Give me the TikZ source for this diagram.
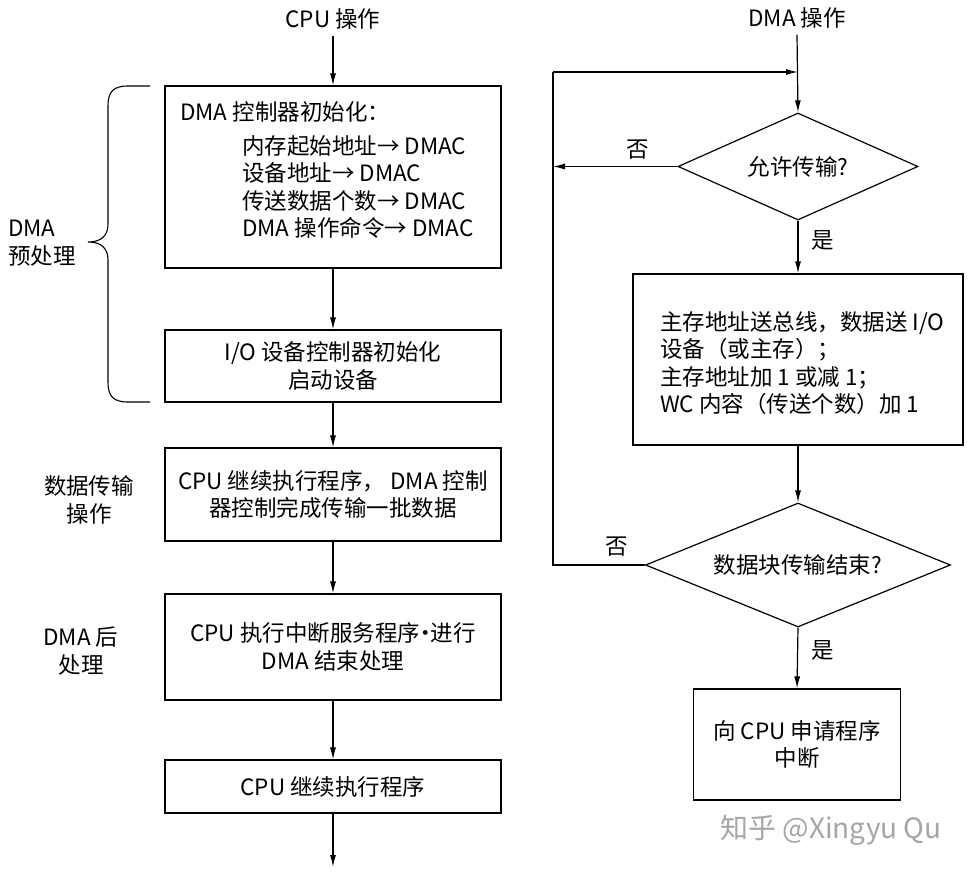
\documentclass[tikz,border=0pt]{standalone}
\usepackage{fontspec}
\setmainfont{Noto Sans CJK SC}
\usetikzlibrary{arrows.meta,shapes.geometric}
\begin{document}
\begin{tikzpicture}[x=1pt,y=-1pt,
  every node/.style={font=\fontsize{22.5}{27.5}\selectfont, inner sep=2pt},
  box/.style={draw, line width=1.2pt, minimum width=336pt},
  dia/.style={draw, diamond, aspect=2.2, inner sep=0pt, line width=1.2pt},
  arr/.style={line width=1.2pt, -{Latex[length=12pt,width=6pt]}},
  ln/.style={line width=1.2pt},
  txt/.style={align=center, inner sep=0pt},
]
\useasboundingbox (0,0) rectangle (970,875);
\fill[white] (0,0) rectangle (970,875);

% ---------- left column ----------
\node[txt] (cpu) at (333,19) {CPU 操作};
\node[box, minimum height=182pt] (b1) at (333,177) {};
\node[txt, anchor=west] (b1a) at (180,112) {DMA 控制器初始化：};
\node[txt, anchor=west, align=left] (b1b) at (242,187) {内存起始地址→ DMAC\\设备地址→ DMAC\\传送数据个数→ DMAC\\DMA 操作命令→ DMAC};
\node[box, minimum height=72pt, align=center] (b2) at (333,366) {I/O 设备控制器初始化\\启动设备};
\node[box, minimum height=93pt, align=center] (b3) at (333,494.5) {CPU 继续执行程序， DMA 控制\\器控制完成传输一批数据};
\node[box, minimum height=106pt, align=center] (b4) at (333,647) {CPU 执行中断服务程序\kern-6pt·\kern-6pt进行\\DMA 结束处理};
\node[box, minimum height=53pt] (b5) at (333,786.5) {CPU 继续执行程序};
\coordinate (bend) at (333,867);

\draw[arr] (cpu.south) ++(0,6) -- (b1.north);
\draw[arr] (b1) -- (b2);
\draw[arr] (b2) -- (b3);
\draw[arr] (b3) -- (b4);
\draw[arr] (b4) -- (b5);
\draw[arr] (b5) -- (bend);

% side labels
\node[txt, anchor=west, align=left] (l1) at (8,243) {DMA\\预处理};
\node[txt] (l2) at (89,500) {数据传输\\操作};
\node[txt] (l3) at (81,651) {DMA 后\\处理};

% brace
\draw[line width=1.1pt] (150,86) -- (128,86) .. controls (113,86) and (108,92) .. (108,106)
  -- (108,224) .. controls (108,236) and (101,242) .. (88,242)
  .. controls (101,242) and (108,248) .. (108,260)
  -- (108,382) .. controls (108,396) and (113,402) .. (128,402) -- (150,402);

% ---------- right column ----------
\node[txt] (dma) at (797,18) {DMA 操作};
\node[dia, minimum width=240pt, minimum height=107pt] (d1) at (798,166.5) {允许传输?};
\node[draw, line width=1.2pt, minimum width=330pt, minimum height=171pt] (r1) at (798,359.5) {};
\node[txt, anchor=west, align=left] (r1t) at (660,363) {主存地址送总线，数据送 I/O\\设备（或主存）；\\主存地址加 1 或减 1；\\WC 内容（传送个数）加 1};
\node[dia, minimum width=305pt, minimum height=124pt] (d2) at (798,565) {数据块传输结束?};
\node[draw, line width=1.2pt, minimum width=207pt, minimum height=111pt, align=center] (r2) at (797,744.5) {向 CPU 申请程序\\中断};

\coordinate (merge) at (798,72);
\coordinate (ltop) at (553,72);
\coordinate (lmid) at (553,166.5);
\coordinate (lbot) at (553,565);

\draw[arr] (dma.south) ++(0,6) -- (d1.north);
\draw[arr] (d1.west) -- (lmid);
\draw[arr] (d1.south) -- (r1.north);
\draw[arr] (r1.south) -- (d2.north);
\draw[arr] (d2.south) -- (r2.north);
\draw[ln] (d2.west) -- (lbot) -- (ltop);
\draw[arr] (ltop) -- (merge);

\node[txt] (no1) at (638,150) {否};
\node[txt] (yes1) at (823,240) {是};
\node[txt] (no2) at (617,547) {否};
\node[txt] (yes2) at (823,650) {是};

% watermark
\node[txt, text=black!35, font=\fontsize{28}{32}\selectfont] (wm) at (831,830) {知乎 @Xingyu Qu};
\end{tikzpicture}
\end{document}
